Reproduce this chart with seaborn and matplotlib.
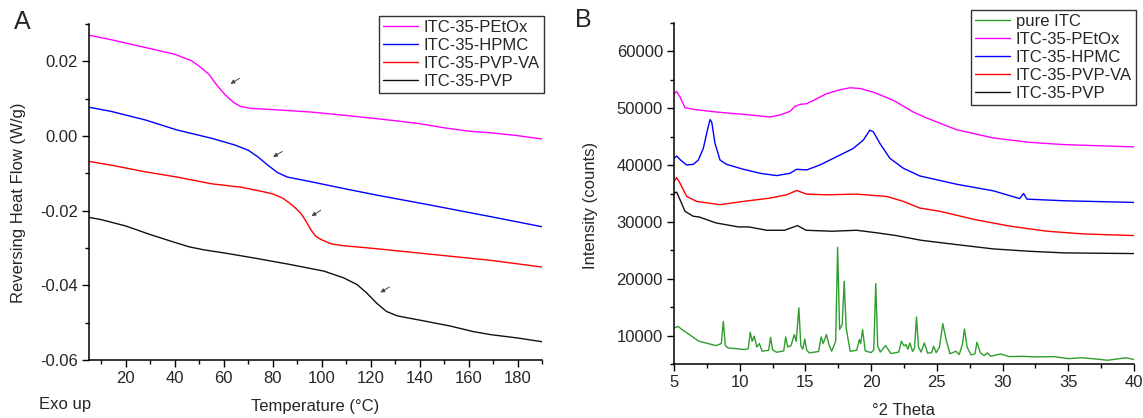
import numpy as np
import pandas as pd
import seaborn as sns
import matplotlib.pyplot as plt
from matplotlib.ticker import MultipleLocator, FormatStrFormatter

# ---- panel A: reversing heat flow (W/g) vs temperature ----
temp_petox = [5, 14, 28, 40, 47, 50, 54, 57, 60.5, 64, 67, 71, 82, 96, 110, 123, 130, 140, 150, 160, 170, 180, 190]
rhf_petox = [0.0270, 0.0258, 0.0237, 0.0219, 0.0201, 0.0187, 0.0165, 0.0138, 0.0111, 0.0090, 0.0079, 0.0074,
             0.0070, 0.0064, 0.0055, 0.0046, 0.0041, 0.0033, 0.0022, 0.0013, 0.0008, 0.0001, -0.0008]

temp_hpmc = [5, 14, 28, 41, 55, 64.5, 70, 74, 78, 82, 86, 96, 110, 123, 142, 169, 190]
rhf_hpmc = [0.0077, 0.0066, 0.0043, 0.0016, -0.0006, -0.0024, -0.0038, -0.0056, -0.0078, -0.0098, -0.0110,
            -0.0123, -0.0142, -0.0159, -0.0182, -0.0216, -0.0243]

temp_pvpva = [5, 14, 28, 41, 55, 67, 76, 80, 84, 87, 89.5, 91.5, 93.5, 95.5, 97.5, 100, 104, 109, 121, 142, 169,
              190]
rhf_pvpva = [-0.0068, -0.0078, -0.0096, -0.0110, -0.0128, -0.0137, -0.0149, -0.0155, -0.0166, -0.0180, -0.0194,
             -0.0207, -0.0227, -0.0250, -0.0268, -0.0278, -0.0289, -0.0294, -0.0301, -0.0315, -0.0333, -0.0351]

temp_pvp = [5, 10, 20, 30, 40, 46, 52, 60, 73.5, 87, 101, 109, 114.5, 118.5, 122.5, 126.5, 131, 141.5, 152.5, 162,
            169, 180, 190]
rhf_pvp = [-0.0218, -0.0224, -0.0241, -0.0264, -0.0285, -0.0297, -0.0305, -0.0313, -0.0328, -0.0344, -0.0362,
           -0.0380, -0.0398, -0.0421, -0.0448, -0.0470, -0.0482, -0.0495, -0.0509, -0.0524, -0.0532, -0.0541,
           -0.0551]

arrow_tips = [(61.8, 0.0136), (79.2, -0.0060), (94.9, -0.0218), (123.0, -0.0423)]

# ---- panel B: XRD intensity (counts) vs 2 theta ----
tt_itc = [5.0, 5.3, 5.8, 6.9, 8.2, 8.6, 8.75, 8.9, 9.1, 10.4, 10.65, 10.8, 10.95, 11.1, 11.3, 11.5, 11.7, 12.2,
          12.35, 12.5, 12.8, 13.35, 13.5, 13.65, 13.9, 14.15, 14.3, 14.5, 14.65, 14.8, 14.95, 15.1, 15.3, 16.0,
          16.2, 16.35, 16.6, 16.8, 17.0, 17.3, 17.45, 17.6, 17.8, 17.95, 18.1, 18.4, 18.9, 19.1, 19.2, 19.35,
          19.55, 20.0, 20.2, 20.35, 20.5, 20.7, 21.1, 21.5, 22.1, 22.3, 22.5, 22.65, 22.8, 22.95, 23.15, 23.3,
          23.45, 23.6, 23.8, 24.05, 24.3, 24.6, 24.75, 24.95, 25.2, 25.45, 25.7, 26.0, 26.45, 26.7, 26.95, 27.1,
          27.3, 27.6, 27.9, 28.05, 28.3, 28.6, 28.85, 29.1, 29.85, 30.5, 31.5, 32.5, 33.9, 35.0, 36.0, 37.0,
          38.0, 39.4, 40.0]
int_itc = [11350, 11600, 10760, 9000, 8240, 8600, 12500, 8300, 7830, 7540, 7700, 10600, 9000, 9900, 8000, 8600,
           7250, 7400, 9700, 7500, 7070, 7300, 9770, 8000, 8200, 10180, 9000, 14870, 8200, 7600, 9400, 7400,
           6950, 7200, 9770, 8600, 10180, 8300, 7250, 9000, 25540, 11050, 12000, 19560, 11350, 7250, 7400, 9300,
           8600, 11050, 7300, 7000, 7500, 19150, 8120, 7100, 8240, 6830, 7100, 9000, 8200, 8400, 7600, 8710,
           7200, 7800, 13280, 8000, 7100, 8710, 6900, 7000, 8120, 7000, 8000, 12110, 9300, 6800, 7240, 6660,
           8500, 11170, 8000, 6600, 6800, 8830, 7000, 6480, 6950, 6360, 6770, 6300, 6350, 6250, 6300, 5950,
           6100, 5900, 5660, 6100, 5780]

tt_petox = [5.0, 5.2, 5.46, 5.84, 6.47, 7.74, 9.0, 10.28, 11.54, 12.3, 13.07, 13.83, 14.2, 14.6, 15.1, 15.85,
            16.6, 17.6, 18.4, 19.15, 20.17, 21.7, 23.2, 24.1, 26.5, 29.3, 32.0, 34.7, 40.0]
int_petox = [52550, 52960, 51960, 50100, 49810, 49460, 49170, 48930, 48640, 48470, 48820, 49460, 50330, 50680,
             50800, 51670, 52550, 53250, 53600, 53480, 52840, 51380, 49340, 48400, 46220, 44770, 44010, 43600,
             43200]

tt_hpmc = [5.0, 5.2, 5.5, 5.96, 6.47, 6.85, 7.23, 7.54, 7.74, 7.87, 8.12, 8.5, 9.0, 10.28, 11.54, 12.81, 13.83,
           14.33, 15.1, 16.1, 17.38, 18.64, 19.4, 19.9, 20.17, 20.67, 21.43, 22.45, 23.7, 26.5, 29.3, 31.3, 31.6,
           31.85, 34.7, 40.0]
int_hpmc = [41180, 41590, 40890, 40020, 40130, 40890, 42930, 46140, 48000, 47590, 43800, 40890, 40130, 39260,
            38560, 38150, 38560, 39260, 39150, 40020, 41480, 42930, 44390, 46140, 45850, 43800, 41180, 39440,
            38090, 36630, 35470, 34100, 35000, 34010, 33720, 33430]

tt_pvpva = [5.0, 5.2, 5.46, 5.96, 6.72, 8.5, 10.28, 12.3, 13.57, 14.33, 15.1, 16.6, 18.9, 21.2, 22.45, 23.7,
            25.2, 27.9, 30.6, 33.4, 36.1, 40.0]
int_pvpva = [37100, 37800, 36810, 34480, 33610, 33030, 33610, 34190, 34770, 35530, 34890, 34770, 34890, 34480,
             33610, 32440, 31880, 30410, 29240, 28360, 27890, 27600]

tt_pvp = [5.0, 5.2, 5.46, 5.84, 6.47, 6.9, 8.2, 9.9, 10.7, 12.05, 13.4, 14.4, 15.05, 17.0, 18.9, 20.5, 21.9,
          23.8, 26.5, 29.3, 32.0, 34.7, 40.0]
int_pvp = [35070, 35240, 33900, 31860, 30990, 30880, 29820, 29120, 29120, 28530, 28530, 29350, 28530, 28360,
           28530, 28060, 27600, 26770, 26010, 25250, 24840, 24550, 24430]

sns.set_style("ticks")
plt.rcParams["font.family"] = ["Liberation Sans", "DejaVu Sans"]
plt.rcParams["axes.unicode_minus"] = False
fs = 12

fig = plt.figure(figsize=(11.43, 4.18), dpi=100)
W, H = 1143, 418
axA = fig.add_axes([89 / W, 1 - 360 / H, 453 / W, 336 / H])
axB = fig.add_axes([674 / W, 1 - 364 / H, 460 / W, 341 / H])

lw = 1.0
sns.lineplot(x=temp_petox, y=rhf_petox, ax=axA, color="#ff00ff", lw=lw, label="ITC-35-PEtOx")
sns.lineplot(x=temp_hpmc, y=rhf_hpmc, ax=axA, color="#0000ff", lw=lw, label="ITC-35-HPMC")
sns.lineplot(x=temp_pvpva, y=rhf_pvpva, ax=axA, color="#ff0000", lw=lw, label="ITC-35-PVP-VA")
sns.lineplot(x=temp_pvp, y=rhf_pvp, ax=axA, color="#111111", lw=lw, label="ITC-35-PVP")

for tx, ty in arrow_tips:
    axA.annotate("", xy=(tx, ty), xytext=(10, 6), textcoords="offset points",
                 arrowprops=dict(arrowstyle="-|>", color="#444444", lw=0.7, mutation_scale=6))

sns.lineplot(x=tt_itc, y=int_itc, ax=axB, color="#2e9e2e", lw=lw, label="pure ITC")
sns.lineplot(x=tt_petox, y=int_petox, ax=axB, color="#ff00ff", lw=lw, label="ITC-35-PEtOx")
sns.lineplot(x=tt_hpmc, y=int_hpmc, ax=axB, color="#0000ff", lw=lw, label="ITC-35-HPMC")
sns.lineplot(x=tt_pvpva, y=int_pvpva, ax=axB, color="#ff0000", lw=lw, label="ITC-35-PVP-VA")
sns.lineplot(x=tt_pvp, y=int_pvp, ax=axB, color="#111111", lw=lw, label="ITC-35-PVP")

axA.set_xlim(5, 190)
axA.set_ylim(-0.06, 0.03)
axA.set_xticks([20, 40, 60, 80, 100, 120, 140, 160, 180])
axA.xaxis.set_minor_locator(MultipleLocator(10))
axA.set_yticks([-0.06, -0.04, -0.02, 0.00, 0.02])
axA.yaxis.set_minor_locator(MultipleLocator(0.01))
axA.yaxis.set_major_formatter(FormatStrFormatter("%.2f"))

axB.set_xlim(5, 40)
axB.set_ylim(5000, 65000)
axB.xaxis.set_major_locator(MultipleLocator(5))
axB.xaxis.set_minor_locator(MultipleLocator(2.5))
axB.set_yticks([10000, 20000, 30000, 40000, 50000, 60000])
axB.yaxis.set_minor_locator(MultipleLocator(5000))

for ax in (axA, axB):
    sns.despine(ax=ax)
    for s in ("left", "bottom"):
        ax.spines[s].set_linewidth(1.1)
        ax.spines[s].set_color("black")
    ax.tick_params(which="major", direction="out", length=5, width=1, labelsize=fs, pad=3, color="black")
    ax.tick_params(which="minor", direction="out", length=3, width=1, color="black")

axA.set_xlabel("Temperature (°C)", fontsize=fs)
axA.set_ylabel("Reversing Heat Flow (W/g)", fontsize=fs)
axA.xaxis.set_label_coords(0.499, -0.115)
axA.yaxis.set_label_coords(-0.139, 0.467)

axB.set_xlabel("°2 Theta", fontsize=fs)
axB.set_ylabel("Intensity (counts)", fontsize=fs)
axB.xaxis.set_label_coords(0.5, -0.115)
axB.yaxis.set_label_coords(-0.165, 0.466)

legkw = dict(loc="upper right", bbox_transform=fig.transFigure, fontsize=fs, frameon=True, fancybox=False,
             edgecolor="#333333", framealpha=1, borderaxespad=0, borderpad=0.25, handlelength=2.1,
             handletextpad=0.33, labelspacing=0.18)
legA = axA.legend(bbox_to_anchor=(544 / W, 1 - 16 / H), **legkw)
legB = axB.legend(bbox_to_anchor=(1136 / W, 1 - 10 / H), **legkw)
for leg in (legA, legB):
    leg.get_frame().set_linewidth(1.0)

fig.text(22 / W, 1 - 22 / H, "A", fontsize=18, ha="center", va="center")
fig.text(583 / W, 1 - 20 / H, "B", fontsize=18, ha="center", va="center")
fig.text(39 / W, 1 - 405 / H, "Exo up", fontsize=fs, ha="left", va="center")

fig.savefig("out.png", dpi=100)
